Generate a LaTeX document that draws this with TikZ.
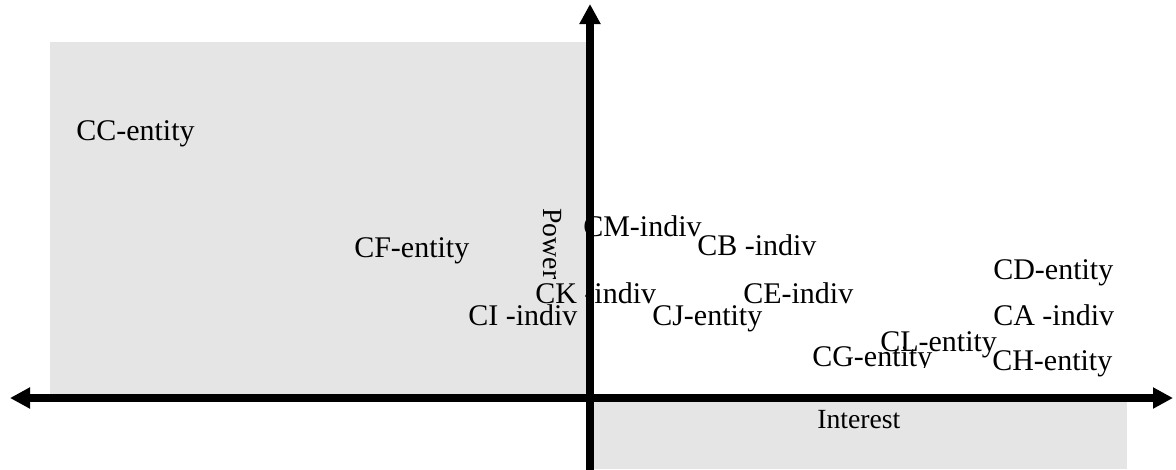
\documentclass[tikz,border=0pt]{standalone}
\usepackage{fontspec}
\setmainfont{Liberation Serif}
\usetikzlibrary{arrows.meta}
\definecolor{quadgray}{HTML}{E5E5E5}
\begin{document}
\begin{tikzpicture}[x=0.75pt,y=-0.75pt,
  lbl/.style={anchor=base west,inner sep=0pt,font=\fontsize{22.5}{26}\selectfont},
  axlbl/.style={inner sep=0pt,font=\fontsize{20.8}{24}\selectfont},
  axis/.style={line width=5.6pt,-{Triangle[length=15pt,width=15pt]}}]
\useasboundingbox (0,0) rectangle (1176,469);
% shaded quadrants
\fill[quadgray] (50,42) rectangle (590,398);
\fill[quadgray] (590,398) rectangle (1127,469);
% labels
\node[lbl] (cc) at (76,140) {CC-entity};
\node[lbl] (cf) at (354,257) {CF-entity};
\node[lbl] (cm) at (583,236) {CM-indiv};
\node[lbl] (cb) at (697,255) {CB -indiv};
\node[lbl] (ck) at (535,303) {CK -indiv};
\node[lbl] (ci) at (468,325) {CI -indiv};
\node[lbl] (cj) at (652,325) {CJ-entity};
\node[lbl] (ce) at (743,303) {CE-indiv};
\node[lbl] (cd) at (993,279) {CD-entity};
\node[lbl] (ca) at (993,325) {CA -indiv};
\node[lbl] (cl) at (880,351) {CL-entity};
\begin{scope}
\clip (790,330) rectangle (990,367);
\node[lbl] (cg) at (812,366) {CG-entity};
\end{scope}
\node[lbl] (ch) at (992,370) {CH-entity};
\node[axlbl,rotate=-90] (power) at (552,244) {Power};
\node[axlbl,anchor=base west] (interest) at (817,428) {Interest};
% axes
\coordinate (o) at (590,398);
\coordinate (xl) at (10,398);
\coordinate (xr) at (1173,398);
\coordinate (yt) at (590,4);
\coordinate (yb) at (590,480);
\draw[axis] (yb) -- (yt);
\draw[line width=5.6pt,{Triangle[length=15pt,width=15pt]}-{Triangle[length=15pt,width=15pt]}] (xl) -- (xr);
\end{tikzpicture}
\end{document}
